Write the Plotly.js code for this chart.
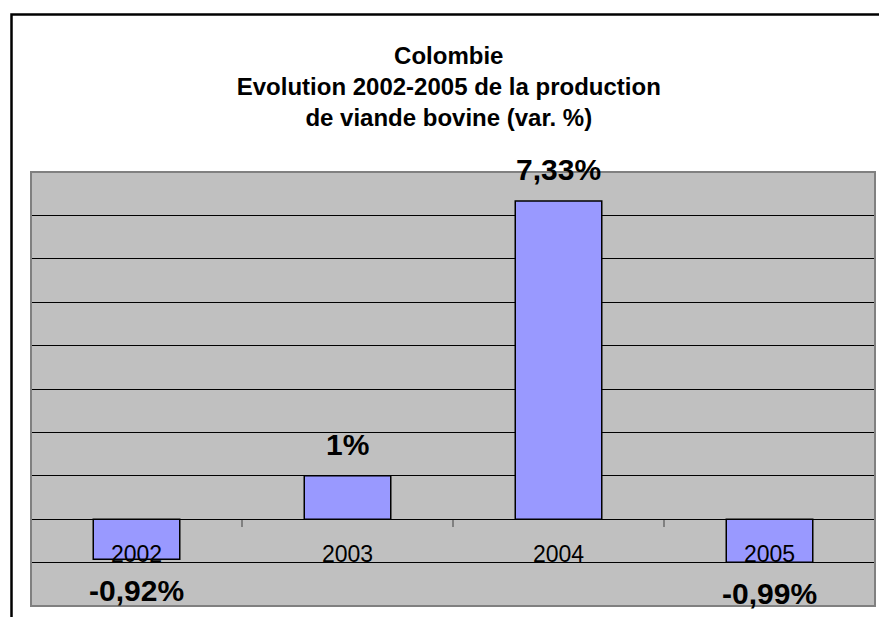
<!DOCTYPE html>
<html>
<head>
<meta charset="utf-8">
<script src="https://cdn.plot.ly/plotly-3.0.1.min.js"></script>
<style>html,body{margin:0;padding:0;background:#fff;}#chart{width:879px;height:617px;}</style>
</head>
<body>
<div id="chart"></div>
<script>
const categories = ["2002", "2003", "2004", "2005"];
const values = [-0.92, 1, 7.33, -0.99];
const valueLabels = ["-0,92%", "1%", "7,33%", "-0,99%"];
const titleLines = ["Colombie", "Evolution 2002-2005 de la production", "de viande bovine (var. %)"];

const FONT = "Liberation Sans, Arial, Helvetica, sans-serif";

const trace = {
  type: "bar",
  x: categories,
  y: values,
  marker: { color: "#9999ff", line: { color: "#000000", width: 1.5 } },
  hoverinfo: "none"
};

const annotations = categories.map((c, i) => ({
  x: i, y: values[i], xref: "x", yref: "y",
  text: "<b>" + valueLabels[i] + "</b>",
  showarrow: false,
  yanchor: values[i] >= 0 ? "bottom" : "top",
  yshift: values[i] >= 0 ? 13 : -13,
  font: { family: FONT, size: 30, color: "#000000" }
}));

const layout = {
  width: 879, height: 617,
  margin: { l: 31, r: 4, t: 172, b: 11, pad: 0 },
  paper_bgcolor: "#ffffff",
  plot_bgcolor: "#c0c0c0",
  showlegend: false,
  bargap: 0.59,
  title: {
    text: "<b>" + titleLines.join("<br>") + "</b>",
    font: { family: FONT, size: 24, color: "#000000" },
    x: 0.495, xref: "paper", xanchor: "center",
    y: 1 - 64 / 617, yref: "container", yanchor: "middle"
  },
  xaxis: {
    type: "category",
    categoryorder: "array", categoryarray: categories,
    range: [-0.5, 3.5], autorange: false,
    anchor: "free", position: 0.2,
    showgrid: false, showline: false, zeroline: false,
    ticks: "outside", tickson: "boundaries", ticklen: 7, tickwidth: 1.5, tickcolor: "#808080",
    ticklabelstandoff: 19, tickangle: 0,
    tickfont: { family: FONT, size: 23, color: "#000000" },
    fixedrange: true
  },
  yaxis: {
    range: [-2, 8], autorange: false,
    tickmode: "array", tickvals: [-1, 0, 1, 2, 3, 4, 5, 6, 7],
    showticklabels: false, ticks: "",
    showgrid: true, gridcolor: "#000000", gridwidth: 1,
    zeroline: true, zerolinecolor: "#000000", zerolinewidth: 1,
    showline: false, fixedrange: true
  },
  annotations: annotations,
  shapes: [
    { type: "rect", xref: "paper", yref: "paper", x0: 0, x1: 1, y0: 0, y1: 1,
      line: { color: "#808080", width: 2 }, fillcolor: "rgba(0,0,0,0)", layer: "above" },
    { type: "rect", xref: "paper", yref: "paper", x0: -0.0231, x1: 1.03, y0: -0.07, y1: 1.3629,
      line: { color: "#000000", width: 2.5 }, fillcolor: "rgba(0,0,0,0)", layer: "above" }
  ]
};

Plotly.newPlot("chart", [trace], layout, { displayModeBar: false, staticPlot: true });
</script>
</body>
</html>
